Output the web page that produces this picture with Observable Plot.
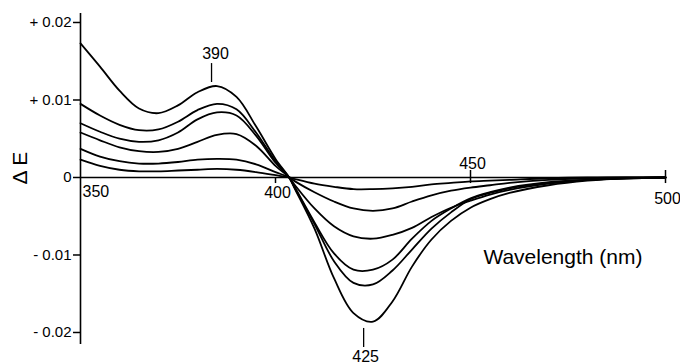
<!DOCTYPE html>
<html>
<head>
<meta charset="utf-8">
<script src="https://cdn.jsdelivr.net/npm/d3@7"></script>
<script src="https://cdn.jsdelivr.net/npm/@observablehq/plot@0.6"></script>
<style>
  html, body { margin: 0; padding: 0; background: #fff; }
  #chart svg { display: block; }
</style>
</head>
<body>
<div id="chart"></div>
<script>
// Wavelengths (nm)
const wavelengths = [350,355,360,365,370,375,380,385,390,395,400,403.5,405,410,415,420,425,430,435,440,445,450,455,460,470,480,490,500];
// Difference spectra (ΔE), six curves, largest to smallest
const curveA = [0.0173,0.0143,0.0112,0.0089,0.0083,0.0093,0.0110,0.0118,0.0104,0.0066,0.0024,0,-0.0015,-0.0066,-0.0130,-0.0175,-0.0186,-0.0160,-0.0115,-0.0080,-0.0056,-0.0039,-0.0028,-0.0020,-0.0010,-0.0004,-0.0001,0];
const curveB = [0.0095,0.0080,0.0068,0.0061,0.0062,0.0072,0.0087,0.0095,0.0088,0.0058,0.0021,0,-0.0014,-0.0060,-0.0108,-0.0136,-0.0138,-0.0120,-0.0093,-0.0066,-0.0045,-0.0028,-0.0020,-0.0014,-0.0007,-0.0003,-0.0001,0];
const curveC = [0.0070,0.0059,0.0050,0.0046,0.0048,0.0058,0.0075,0.0084,0.0080,0.0054,0.0019,0,-0.0013,-0.0058,-0.0098,-0.0119,-0.0119,-0.0106,-0.0079,-0.0056,-0.0040,-0.0027,-0.0019,-0.0013,-0.0006,-0.0003,-0.0001,0];
const curveD = [0.0058,0.0048,0.0039,0.0034,0.0033,0.0037,0.0046,0.0055,0.0056,0.0041,0.0015,0,-0.0010,-0.0040,-0.0063,-0.0076,-0.0079,-0.0074,-0.0065,-0.0051,-0.0039,-0.0030,-0.0022,-0.0016,-0.0008,-0.0003,-0.0001,0];
const curveE = [0.0037,0.0027,0.0021,0.0018,0.0018,0.0020,0.0023,0.0024,0.0023,0.0017,0.0007,0,-0.0005,-0.0019,-0.0031,-0.0040,-0.0043,-0.0040,-0.0031,-0.0023,-0.0017,-0.0013,-0.0010,-0.0007,-0.0003,-0.0001,0,0];
const curveF = [0.0023,0.0015,0.0010,0.0008,0.0008,0.0009,0.0010,0.0011,0.0010,0.0007,0.0003,0,-0.0002,-0.0008,-0.0012,-0.0015,-0.0015,-0.0014,-0.0012,-0.0009,-0.0007,-0.0005,-0.0004,-0.0003,-0.0001,0,0,0];
const seriesNames = ["A","B","C","D","E","F"];
const seriesValues = [curveA, curveB, curveC, curveD, curveE, curveF];

// Axis ticks and labels
const yTicks = [0.02, 0.01, 0, -0.01, -0.02];
const yTickLabels = ["+ 0.02", "+ 0.01", "0", "- 0.01", "- 0.02"];
const xTickLabels = [350, 400, 450, 500];
const peakLabels = ["390", "425"];
const peakWavelengths = [383.6, 422.6];

const rows = [];
seriesNames.forEach((name, i) => {
  wavelengths.forEach((w, j) => rows.push({series: name, wl: w, dE: seriesValues[i][j]}));
});

const font = "'Liberation Sans', Arial, sans-serif";

const chart = Plot.plot({
  width: 680,
  height: 364,
  marginLeft: 80,
  marginRight: 15,
  marginTop: 13,
  marginBottom: 20,
  style: {fontFamily: font, background: "#fff", color: "#000"},
  x: {domain: [350, 500], axis: null},
  y: {domain: [-0.02155, 0.02116], axis: null},
  marks: [
    Plot.axisY({ticks: yTicks, tickSize: 7, tickPadding: 2, fontSize: 15, stroke: "#000", strokeWidth: 1.5,
      tickFormat: (d) => yTickLabels[yTicks.indexOf(d)], label: null}),
    Plot.ruleX([xTickLabels[0]], {stroke: "#000", strokeWidth: 1.6}),
    Plot.ruleY([0], {x1: xTickLabels[0], x2: xTickLabels[3], stroke: "#000", strokeWidth: 1.5}),
    // x tick marks
    Plot.ruleX([xTickLabels[1]], {y1: 0, y2: -0.00078, stroke: "#000", strokeWidth: 1.5}),
    Plot.ruleX([xTickLabels[2], xTickLabels[3]], {y1: 0.0009, y2: -0.00078, stroke: "#000", strokeWidth: 1.5}),
    // x tick labels
    Plot.text([xTickLabels[0]], {x: (d) => d, y: -0.0018, dx: 2, textAnchor: "start", fontSize: 16, fill: "#000"}),
    Plot.text([xTickLabels[1]], {x: (d) => d, y: -0.00195, dx: 2, fontSize: 16, fill: "#000"}),
    Plot.text([xTickLabels[2]], {x: (d) => d, y: 0.0018, dx: 2, fontSize: 16, fill: "#000"}),
    Plot.text([xTickLabels[3]], {x: (d) => d, y: -0.0027, dx: 2, fontSize: 16, fill: "#000"}),
    // spectra
    Plot.line(rows, {x: "wl", y: "dE", z: "series", curve: "catmull-rom", stroke: "#000", strokeWidth: 1.8}),
    // peak annotations
    Plot.ruleX([peakWavelengths[0]], {y1: 0.0147, y2: 0.01226, stroke: "#000", strokeWidth: 1.3}),
    Plot.text([peakLabels[0]], {x: peakWavelengths[0], y: 0.0160, dx: 4, fontSize: 16, fill: "#000"}),
    Plot.ruleX([peakWavelengths[1]], {y1: -0.01948, y2: -0.02194, stroke: "#000", strokeWidth: 1.3}),
    Plot.text([peakLabels[1]], {x: peakWavelengths[1], y: -0.0231, dx: 2, fontSize: 16, fill: "#000"}),
    // axis titles
    Plot.text(["Wavelength (nm)"], {frameAnchor: "top-right", dx: -23, dy: 236, fontSize: 21, fill: "#000"}),
    Plot.text(["Δ E"], {x: xTickLabels[0], y: 0.0012, dx: -60, rotate: -90, fontSize: 21, fill: "#000"})
  ]
});
document.getElementById("chart").appendChild(chart);
</script>
</body>
</html>
